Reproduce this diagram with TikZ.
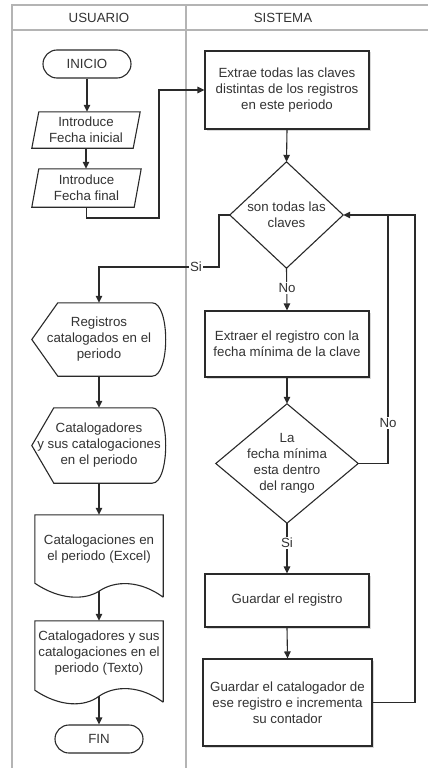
\documentclass[tikz,border=0pt]{standalone}
\usepackage{fontspec}
\setmainfont{Liberation Sans}
\usetikzlibrary{arrows.meta,shadows}
\definecolor{txtc}{HTML}{333333}
\definecolor{linec}{HTML}{2A2A2A}
\definecolor{poolc}{HTML}{B4B4B4}
\tikzset{
  lbl/.style={font=\fontsize{13.3}{16}\selectfont, text=txtc, align=center, inner sep=0pt},
  frame/.style={draw=none, inner sep=0pt},
  outline/.style={draw=linec, line width=1.1pt, fill=white, line join=miter},
  procbox/.style={lbl, draw=linec, line width=1.1pt, fill=white,
    drop shadow={shadow xshift=1.5pt, shadow yshift=-1.5pt, opacity=0.3}},
  termbox/.style={lbl, draw=linec, line width=1.1pt, fill=white,
    minimum width=88pt, minimum height=28pt, rounded corners=14pt},
  flow/.style={draw=linec, line width=1.1pt},
  arr/.style={flow, -{Triangle[length=7pt,width=6.5pt]}},
  tag/.style={lbl, fill=white, inner sep=1.5pt},
  pool/.style={draw=poolc, line width=1.4pt}
}
\begin{document}
\begin{tikzpicture}[x=1pt,y=-1pt]
\useasboundingbox (0,0) rectangle (428,768);

% swimlane frame
\draw[pool] (12,768) -- (12,5) -- (428,5);
\draw[pool] (12,30) -- (428,30);
\draw[pool] (186,5) -- (186,768);
\node[lbl] (usr) at (99,17.5) {USUARIO};
\node[lbl] (sys) at (283,17.5) {SISTEMA};

% ---------- USUARIO lane ----------
\node[termbox] (ini) at (87,64) {INICIO};

\node[frame, minimum width=108pt, minimum height=36pt] (fi) at (86,130) {};
\path[outline] (fi.south west) -- ([xshift=7pt]fi.north west) -- (fi.north east)
  -- ([xshift=-7pt]fi.south east) -- cycle;
\node[lbl] at (fi.center) {Introduce\\Fecha inicial};

\node[frame, minimum width=109pt, minimum height=38pt] (ff) at (86.5,188) {};
\path[outline] (ff.south west) -- ([xshift=7pt]ff.north west) -- (ff.north east)
  -- ([xshift=-7pt]ff.south east) -- cycle;
\node[lbl] at (ff.center) {Introduce\\Fecha final};

% display shapes
\node[frame, minimum width=134pt, minimum height=73pt] (reg) at (99,339.5) {};
\path[outline] (reg.west) -- ([xshift=26pt]reg.north west) -- ([xshift=-14pt]reg.north east)
  .. controls ([xshift=4pt]reg.north east) and ([xshift=4pt]reg.south east) .. ([xshift=-14pt]reg.south east)
  -- ([xshift=26pt]reg.south west) -- cycle;
\node[lbl] at (reg.center) {Registros\\catalogados en el\\periodo};

\node[frame, minimum width=134pt, minimum height=75pt] (cat) at (99,445.5) {};
\path[outline] (cat.west) -- ([xshift=22pt]cat.north west) -- ([xshift=-14pt]cat.north east)
  .. controls ([xshift=4pt]cat.north east) and ([xshift=4pt]cat.south east) .. ([xshift=-14pt]cat.south east)
  -- ([xshift=22pt]cat.south west) -- cycle;
\node[lbl] at (cat.center) {Catalogadores\\y sus catalogaciones\\en el periodo};

% documents
\node[frame, minimum width=128pt, minimum height=82pt] (doc1) at (99,556) {};
\path[outline] (doc1.south east) -- (doc1.north east) -- (doc1.north west) -- ([yshift=14pt]doc1.south west)
  .. controls ([xshift=25pt,yshift=-3pt]doc1.south west) and ([xshift=50pt,yshift=-3pt]doc1.south west) .. ([yshift=6pt]doc1.south)
  .. controls ([xshift=16pt,yshift=17pt]doc1.south) and ([xshift=41pt,yshift=17pt]doc1.south) .. (doc1.south east);
\node[lbl] (doc1t) at (99,549) {Catalogaciones en\\el periodo (Excel)};

\node[frame, minimum width=128pt, minimum height=81pt] (doc2) at (99,661.5) {};
\path[outline] (doc2.south east) -- (doc2.north east) -- (doc2.north west) -- ([yshift=12pt]doc2.south west)
  .. controls ([xshift=25pt,yshift=-5pt]doc2.south west) and ([xshift=50pt,yshift=-5pt]doc2.south west) .. ([yshift=6pt]doc2.south)
  .. controls ([xshift=16pt,yshift=17pt]doc2.south) and ([xshift=41pt,yshift=17pt]doc2.south) .. (doc2.south east);
\node[lbl] (doc2t) at (99,653.5) {Catalogadores y sus\\catalogaciones en el\\periodo (Texto)};

\node[termbox] (fin) at (99,739) {FIN};

% ---------- SISTEMA lane ----------
\node[procbox, minimum width=164pt, minimum height=78pt] (ext) at (287,90)
  {Extrae todas las claves\\distintas de los registros\\en este periodo};

\node[frame, minimum width=113pt, minimum height=106pt] (d1) at (286.5,215) {};
\path[outline] (d1.north) -- (d1.east) -- (d1.south) -- (d1.west) -- cycle;
\node[lbl] at (d1.center) {son todas las\\claves};

\node[procbox, minimum width=164pt, minimum height=66pt] (b2) at (287,344)
  {Extraer el registro con la\\fecha mínima de la clave};

\node[frame, minimum width=142pt, minimum height=119pt] (d2) at (287,463.5) {};
\path[outline] (d2.north) -- (d2.east) -- (d2.south) -- (d2.west) -- cycle;
\node[lbl] at (d2.center) {La\\fecha mínima\\esta dentro\\del rango};

\node[procbox, minimum width=164pt, minimum height=53pt] (b3) at (287,600.5)
  {Guardar el registro};

\node[procbox, minimum width=169pt, minimum height=87pt] (b4) at (287.5,702.5)
  {Guardar el catalogador de\\ese registro e incrementa\\su contador};

% ---------- connectors ----------
\coordinate (j1) at (159,218);
\coordinate (s1) at (219,267);
\coordinate (lpN) at (388,215);
\coordinate (lpR) at (415,215);

\draw[arr] (ini.south) -- (ini.south |- fi.north);
\draw[arr] (fi.south) -- (fi.south |- ff.north);
\draw[arr] (ff.south) |- (j1) |- (ext.west);
\draw[arr] (ext.south) -- (d1.north);

\draw[arr] (d1.west) -| (s1) -| (reg.north);
\node[tag] (siA) at (196,267) {Si};

\draw[arr] (d1.south) -- (b2.north);
\node[tag] (noA) at (287,288) {No};

\draw[arr] (reg.south) -- (cat.north);
\draw[arr] (cat.south) -- (doc1.north);
\draw[arr] ([yshift=6pt]doc1.south) -- (doc2.north);
\draw[arr] ([yshift=6pt]doc2.south) -- (fin.north);

\draw[arr] (b2.south) -- (d2.north);
\draw[flow] (d2.east) -| (lpN);
\node[tag] (noB) at (388,423) {No};

\draw[arr] (d2.south) -- (b3.north);
\node[tag] (siB) at (287,543) {Si};

\draw[arr] (b3.south) -- (b4.north);
\draw[arr] (b4.east) -| (lpR) -- (d1.east);
\end{tikzpicture}
\end{document}
